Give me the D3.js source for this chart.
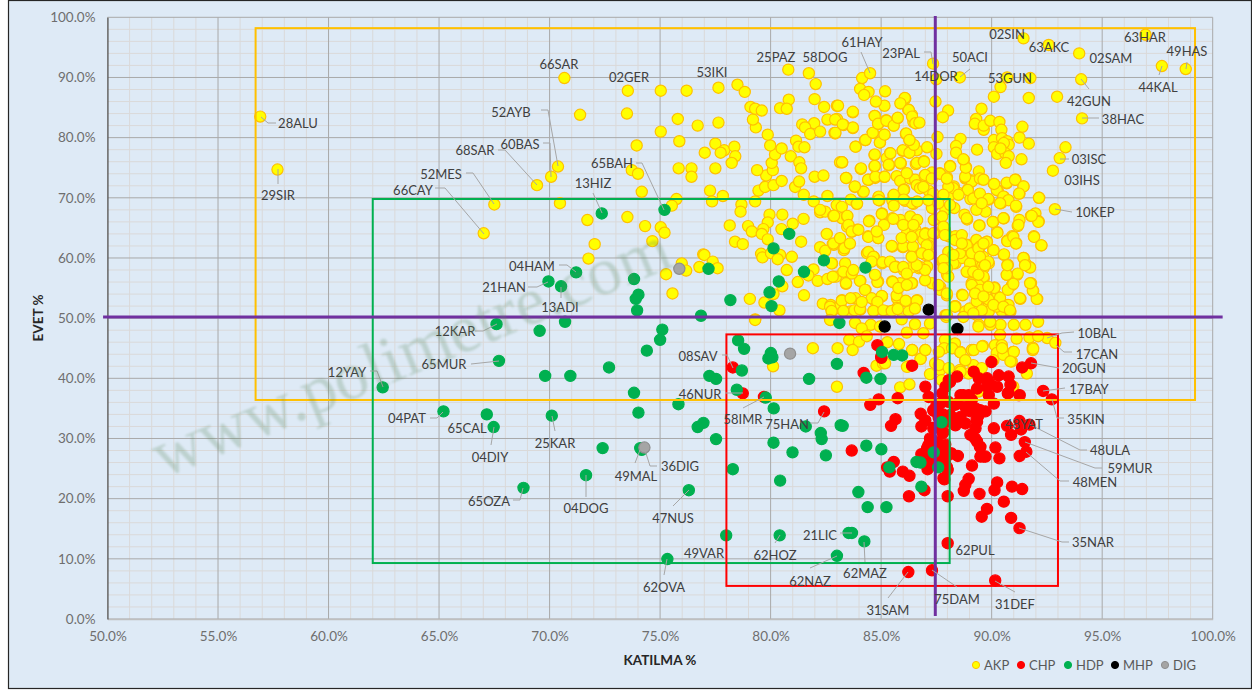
<!DOCTYPE html>
<html><head><meta charset="utf-8">
<style>html,body{margin:0;padding:0;background:#fff}svg{display:block}text{font-family:Lato,"Open Sans",sans-serif}</style>
<script src="https://cdn.jsdelivr.net/npm/d3@7/dist/d3.min.js"></script>
</head><body><div id="c"></div>
<script>
const xTickValues=[50,55,60,65,70,75,80,85,90,95,100];
const yTickValues=[0,10,20,30,40,50,60,70,80,90,100];
const legendNames=["AKP","CHP","HDP","MHP","DIG"];
const akp=[[56.91,83.5],[57.69,74.7],
[70.67,89.9],[73.54,87.8],[75.03,87.8],[76.2,87.8],[77.64,88.3],[78.5,88.8],[78.83,87.6],[71.38,83.8],[73.5,84],[75.8,83.1],[76.7,82],[77.64,82.5],[75.03,81],[73.94,78.7],[75.87,79.4],[77.5,79],[77.9,77.9],[78.36,78.5],[77.02,77.5],[77.74,77.5],[78.4,76.9],[78.24,75.8],[77.5,74.9],[75.84,74.9],[76.42,74.9],[76.42,73.5],[70.38,75.2],[70.07,73.5],[69.43,72.1],[67.5,68.9],[67.02,64.1],[70.47,69.1],[71.71,66.3],[72.04,62.3],[71.76,59.9],[73.52,66.8],[73.72,74.6],[74,74],[74.17,71],[75.74,69.8],[75.53,68.7],[74.32,65.3],[75.03,65.1],[75.2,64.2],[74.65,62.8],[76.95,60.6],[77,60.5],[77.38,59.4],[77.6,58.3],[76.78,58.5],[75.98,59.1],[76.18,57.9],[75.27,57.3],[75.56,54.1],[77.26,71.2],[77.84,70.3],[77.35,69.4],[78.68,68.9],[78.64,67.7],[78.15,65.4],[78.98,65.3],[79.15,64.4],[78.39,62.7],[78.74,62.3],[79.3,69.4],[79.45,71.2],[79.75,71.8],[80.13,72.1],[80.5,72.8],[81.11,71.8],[81.29,72.7],[81.5,70.5],[81.95,69.4],[82.57,70.3],[79.8,73.7],[79.39,74.6],[80.1,74.6],[80.05,75.8],[80.2,77.2],[79.98,78.7],[80.5,78.2],[79.87,80.5],[79.33,81.7],[79.2,83],[79.09,85.1],[79.3,84.8],[79.6,84.5],[80.43,84.9],[80.82,86.3],[80.73,84.8],[80.8,91.3],[81.73,90.7],[82.04,88.9],[81.99,86.4],[82.42,85.1],[83,85.3],[82.57,83],[83,83.1],[81.97,82.4],[81.43,82.2],[81.56,81.7],[81.79,80.6],[82.24,81],[82.89,80.8],[81.15,79.5],[81.26,78.5],[81.53,78.4],[80.91,76.9],[81.3,75.9],[81.38,74.9],[81.99,73.5],[82.39,73.7],[83.14,75.9],[79.95,67.2],[80.53,67.2],[79.87,65.9],[79.67,64.8],[79.6,64],[80.49,64.8],[81,65.7],[81.49,66.5],[81.38,62.7],[82.24,67.6],[82.47,67.7],[82.84,67],[82.54,64],[82.81,62.3],[82.24,61.8],[82.47,61.2],[79.87,63.1],[79.57,60.7],[79.63,60.1],[80.02,60.8],[80.43,60.5],[80.32,59.8],[80.96,60.2],[82.78,59.1],[81.94,58.1],[81.71,57.1],[82.13,56.2],[81.23,56],[80.73,58],[82.57,56.5],[82.84,56.9],[80.53,55.3],[80.13,54],[79.72,52.6],[81.51,53.8],[79.06,53.2],[80.4,51.3],[79.3,49.8],[82.36,52.4],[82.72,52.2],[82.77,51.1],[82.72,49.7],
[83.72,84.2],[83.72,81.6],[83.3,82.1],[82.92,83],[82.92,80.7],[83.24,75.9],[83.85,78.5],[84.28,79.6],[84.62,80.8],[84.95,79.2],[85.15,80.5],[84.88,82.3],[84.71,83.6],[85.15,85.3],[84.76,86],[85.18,87.7],[84.14,89.9],[84.5,90.7],[84.05,88.1],[84.43,87.6],[84.23,87.1],[85.23,82.9],[85.74,83.2],[85.56,82],[85.89,85.7],[86.09,86.5],[86.22,84.7],[86.39,83.8],[86.46,82.6],[86.57,82.4],[86.12,80.6],[86.28,79.6],[86.46,78.5],[85.97,77.8],[86.27,77.5],[86.61,77.9],[84.7,77.1],[85.4,77.4],[85.26,76.6],[85.35,75.4],[85.89,75.7],[86.57,75.6],[84.7,75.2],[84.08,74.8],[83.42,73.3],[84.43,73],[84.73,73.3],[85.14,73.5],[85.71,73.6],[85.86,72.8],[86.31,73.2],[86.54,73],[86.16,74.1],[86.04,71.4],[86.61,72.1],[83.81,71.8],[84.18,71],[83.63,69.7],[83.9,69],[84.88,70.1],[84.92,69.6],[85.56,70.3],[85.51,69.5],[86.09,69.5],[86.46,69],[86.76,71.6],[82.99,68.8],[83.22,68.5],[82.24,68],
[91.44,96.5],[92.58,95.4],[93.96,94],[96.96,97.1],[97.7,91.9],[98.78,91.4],[94.05,89.7],[92.96,86.8],[91.68,86.6],[94.09,83.2],[91.75,89.9],[90.7,90],[90.4,88.4],[90.1,86.8],[89.54,84.8],[88.56,90],[87.35,92.3],[87.49,89.7],[87.46,86],[88.03,84.5],[87.79,83.4],[86.07,86.6],[85.87,85.7],[86.25,84.6],[86.4,83.5],[86.55,82.4],[86.73,82.5],[87.55,80.1],[88.59,79.8],[89.34,78],[88.39,78.6],[88.39,77.5],[87.5,77.3],[87.08,78.4],[88.74,76.3],[88.84,75.1],[88.12,75.3],[87.65,74.1],[87.98,73.4],[87.3,74.2],[86.97,73.6],[86.61,75.8],[86.93,76.1],[88.81,73.2],[89.11,72.9],[89.42,74.4],[89.57,73.1],[90.1,72.3],[90.28,71.2],[90.68,72.4],[91.08,73],[91.44,71.9],[91.26,70.7],[92.15,70],[92.86,68.1],[91.11,68.5],[91.98,67.4],[91.78,67],[92.13,66.1],[91.26,66.3],[91.18,65.3],[91.91,63.6],[92.25,62.1],[90.92,63.6],[91.11,62.5],[90.7,62.9],[90.55,66.6],[90.25,64.3],[90.07,66],[89.45,65.4],[88.89,66.4],[88.77,67.2],[90.43,69.1],[90.55,70.2],[89.87,69.7],[89.72,67.7],[89.31,68],[89.42,70.5],[89.04,69.8],[88.92,71.3],[88.29,71.9],[88.51,70.8],[88.13,70.5],[88.31,68.3],[87.91,68],[87.3,68.3],[87.15,71.2],[86.02,71.3],[86.4,69.1],[85.57,70.5],[86.02,69.7],[86.63,69.4],[85.04,67.4],[84.47,66.2],[85.5,66.6],[85.87,66.3],[86.32,66.9],[86.63,66.3],[87.38,66.3],[87.76,66.9],[86.4,64.7],[86.17,64.1],[86.55,64.7],[87,64.1],[87.46,64.1],[87.88,64.7],[88.06,63.6],[84.41,63.6],[84.86,63.3],[85.5,61.9],[85.98,61.8],[86.43,61.9],[87.15,62.7],[87,60.7],[86.4,60.4],[87.23,60.7],[88.36,63.6],[88.59,62.9],[88.89,62.2],[89.31,63],[89.79,62.7],[89.42,61.6],[90.07,61.3],[89.61,60.2],[89.87,59.1],[90.55,60.5],[91.45,60],[91.53,59.1],[91.71,58.5],[90.73,58.9],[90.7,57.2],[91.15,57.2],[91.78,55.8],[91.88,54.5],[92.06,53.2],[91.3,53.2],[90.92,55.5],[90.13,55.1],[89.64,56.6],[89.04,57.5],[89.27,55.8],[89.11,55.5],[88.66,53.9],[89.34,52.8],[90.25,53.6],[90.7,52.2],[89.87,52.2],[88.36,52],[87.91,50.5],[88.81,51.1],[89.34,50.5],[89.87,51.1],[90.47,51.1],[90.85,51.1],[87.61,55],[87.98,57.2],[87.76,59.4],[88.36,59.1],[88.66,60],[89.11,59.1],[89.57,58.6],[87.3,55.8],[86.4,55.8],[85.87,55.8],[85.5,56.1],[84.86,56.1],[84.06,56.2],[84.29,54.7],[83.41,55.7],[83.38,57.7],[82.96,56.9],[83.23,53],[83.84,53.3],[85.04,53.6],[84.74,52.8],[85.72,53.3],[86.13,52.8],[86.63,53],[85.72,51.7],[85.27,51.1],[84.67,51.2],[84.06,51.4],[83.61,51.1],[83.23,51.4],[82.93,51.6],[86.25,51.1],[84.36,60.8],[84.67,60.2],[85.04,59.1],[85.65,58.6],[86.02,58],[86.7,58.3],[86.32,58.3],[87.08,58.6],[83.31,61.3],[82.86,62.2],[83.68,64.4],[83.91,64.7],[83.46,65.2],[83.23,66.6],[82.86,67],[83.46,66.9],[83.91,69],[84.21,71],[84.89,70.2],[84.89,69.6],[85.57,68.7],[83.41,73.3],[83.81,71.9],[84.41,73],[84.74,73.5],[85.16,73.5],[84.09,74.9],[84.71,75.3],[85.34,75.5],[85.87,75.8],[83.23,75.9],[84.71,77.2],[85.42,77.4],[85.98,77.9],[86.28,77.5],[86.48,78.8],[83.84,78.5],[84.29,79.6],[84.94,79.2],[85.15,80.5],[84.62,80.8],[83.72,81.7],[83.26,82.2],[82.93,80.8],[83.05,85.3],[83.72,84.3],[84.71,83.6],[84.86,82.3],[85.24,82.8],[85.57,82],[85.75,83.3],[86.13,80.7],[86.28,79.6],
[92.1,49.4],[91.53,48.9],[91,48.9],[90.4,48.9],[89.94,48.9],[89.42,48.9],[92.51,46.7],[92.88,45.9],[91.86,45.1],[91.13,46.6],[91.71,46.8],[89.4,48.6],[90.38,47.2],[89.93,49.4],[90.15,45.5],[90.46,45.5],[90.98,44.4],[89.6,45.4],[89.1,44.7],[88.57,44.4],[88.34,45.8],[87.89,46.4],[87.85,45],[87.21,49.1],[86.99,44.7],[86.91,47.5],[87.94,50.2],[88.34,52],[88.69,53.8],[89,51.6],[88.72,50.2],[89.32,52.8],[89.85,53.1],[90.23,51.9],[90.38,53.4],[90.76,52.2],[91.28,53.3],[92.04,53.2],[91.86,54.6],[91.74,55.8],[90.73,54.7],[90.98,55.7],[91.18,57.4],[90.68,57.2],[91.74,58.4],[91.44,60],[91.51,58.8],[90.71,58.8],[90.56,60.6],[90.08,61.3],[89.85,59.4],[89.63,58.3],[89.02,59.1],[88.87,57.7],[89.63,56.9],[89.1,55.8],[89.4,55.5],[89.78,54.7],[90.12,55],[88.57,60.8],[88.87,62.1],[88.34,63],[88.65,63.8],[89.47,61.9],[89.78,62.7],[90.26,64.2],[90.71,62.8],[90.98,63.5],[91.1,62.4],[91.92,63.5],[92.25,62.1],[89.44,65.4],[90.05,66],[91.21,65.5],[92.11,66],[88.87,66.6],[90.53,66.6],[91.81,67],[87.82,65.2],[87.89,63.8],[88.04,61],[88.27,59.1],[87.82,59.4],[88.04,56.9],[86.99,56.3],[87.67,55.2],[87.97,53.8],[86.99,60.5],[87.14,62.1],[86.76,63.8],[86.91,63],[86.99,64],[87.36,64.1],[86.76,58.5],[86.99,58],
[82.87,67],[83.47,67],[84.45,66.1],[85.03,67.3],[85.13,65.5],[85.55,66.5],[86,65.5],[86.46,65.5],[82.84,62.4],[83.14,63.3],[83.52,65.5],[83.67,64.4],[83.97,64.7],[84.42,63.5],[84.87,63.3],[84.8,64.4],[85.48,62],[86,61.9],[86.43,61.9],[85.93,63.3],[86.38,63.5],[83.34,61.6],[83.59,62.4],[84.42,61],[84.65,60.2],[84.57,59.4],[85.06,59.3],[85.4,59.4],[85.63,58.5],[86,58.5],[86.16,57.4],[86.61,58.8],[86.38,60.2],[86.38,55.8],[85.52,56],[84.83,56],[84.72,57.2],[84.04,56.2],[83.37,59.1],[83.29,57.7],[83.67,57.4],[83.74,58],[83.41,55.8],[82.76,59.1],[82.81,56.9],[84.27,54.7],[84.57,53.3],[85.03,53.7],[84.83,52.7],[85.7,53.8],[86.11,52.9],[86.61,52.9],[85.78,55],[86.16,55.5],[83.22,52.9],[83.62,53.3],[82.69,51.9],[82.76,51.2],[83.29,51.2],[83.79,51.3],[84.04,51.5],[84.65,51.2],[85.1,51.3],[85.48,51.2],[85.75,51.5],[86.53,51.6],[84.12,52.7],
[82.69,49.7],[83.82,49.2],[84.53,48.9],[84.12,48.3],[85.93,49.8],[86.53,49],[86.16,47.6],[84.95,48.6],[83.56,46.4],[84,46.1],[84.35,47],[83.71,44.7],[85.28,46],[85.81,45.7],[86.41,44.7],[83.03,45],[81.91,45],[80.11,42],[83,38.6],[84.79,42.1],[85.08,42.5],[79.3,49.7],
[86.79,43.3],[86.23,42],[85.86,38.5],[86.28,39],[87.21,40.7],[87.67,41.4],[87.74,39.7],[87.44,42.5],[88.57,41.4],[88.95,40.8],[89.17,42.2],[89.55,41.7],[88.8,43],[88.57,44.4],[90.23,44.2],[90.91,42.8],[90.98,44.4],[91.59,40.8],[90.98,38.6],[89.32,38],[90.53,43.9],[90.08,43],[91.86,44.7],[85.18,42.5],[86.17,41.9],[86.78,43.2],[86.4,44.7],[87,44.7],[87.61,44.4],[88.21,45],[88.59,44.3],[88.81,43],[89.19,44.7],[89.57,45.3],[90.47,45],[91,44.4],[90.85,42.8],[88.59,41.1],[87.61,42.2],[88.06,41.7],[89.42,37.8],[90.92,38.3],[91.88,44.9],[92.1,47],
[93.34,78.4],[93.08,76.6],[92.77,74.5],[89.3,83.1],[89.24,82.3],[89.64,81.3],[89.64,82],[89.94,82.8],[90.35,82.6],[90.44,81.3],[91.39,81.8],[91.26,80],[91.68,79],[90.1,79.6],[90.47,79.9],[90.7,79.4],[90.77,78.8],[90.55,79.1],[90.1,78.4],[90.25,77.3],[90.62,77.4],[90.77,76.9],[90.64,75.8],[91.35,76.4],[90.4,78.2],
[88.87,73.2],[89.1,72.7],[89.47,73.2],[89.63,73],[88.92,71.3],[88.27,71.6],[88.5,70.5],[88.04,71.8],[89.17,69.9],[89.47,70.7],[89.85,69.8],[89.55,69.1],[90.23,71.3],[90.11,72.3],[90.68,72.5],[91.06,73],[91.44,71.9],[91.24,70.7],[90.53,70.2],[90.76,69.6],[90.38,69.1],[91.1,68.7],[92.14,70],[88.8,73.5],[88.12,75.2],[88.83,75],[88.72,76.4],[86.94,76],
[86.99,73.8],[87.29,73.2],[87.66,74],[87.97,73.2],[86.91,71.8],[87.36,70.7],[87.82,70.5],[87.14,69.6],[87.59,69.1],[88.12,68.8],
[87.06,62.1],[86.84,60.8],[87.14,60.5],[87.82,59.7],[87.97,58.3],[87.82,58.3],[88.27,60.5],[88.65,62.4],[89.1,60.8],[89.4,61.6],[89.63,62.4],[89.47,60.2],[89.7,58.8],[89.17,57.7],[89.4,57.2],[89.1,55.5],[89.47,54.7],[89.85,55.2],[89.25,54.1],[89.63,53.6],[90.08,52.2],[89.55,51.3],[89.17,50.8],[90.53,51.9],[90.83,51.3],[87.67,54.7],[87.97,54.1],[87.59,55.5],[88.34,51.9],[87.97,50.5]];
const chp=[[78.29,41.8],[78.74,37.5],[79.7,36.9],[82.42,34.5],[84.83,45.5],[85,43.6],[84.21,40.9],[83.67,28],[91.78,42.5],[91.38,41.8],[89.99,42.7],[86.4,42.1],[85.01,43.4],[87,38.6],[87.15,36.9],[85.75,36.7],[84.89,36.5],[84.51,35.6],[86.79,34.1],[86.82,32],[85.65,33.2],[85.45,32.1],[87.38,34.6],[87.38,31.8],[87.79,30.9],[85.57,26.1],[85.27,25.2],[85.39,24.5],[85.98,24.5],[86.28,23.8],[86.26,20.4],[86.96,21.4],[88.01,20.4],[87.86,23.2],[88.01,24.8],[87.23,29.5],[87.08,28.4],[86.82,27.4],[87.08,26],[87.76,27],[88.14,27.5],[88.47,27.1],[89.11,25.5],[88.96,23.3],[88.81,22.3],[88.74,21.3],[89.45,20.8],[90.25,22.7],[90.13,21.4],[90.92,22],[91.38,21.6],[90.55,19.5],[89.79,18.3],[89.55,17],[90.88,16.8],[91.26,15.1],[88.01,12.6],[86.23,7.8],[87.3,8.1],[90.16,6.4],[92.33,37.9],[92.72,36.5],[91.27,37.2],[90.73,37.5],[90.1,31.7],[90.7,32.1],[91.26,32.9],[91.71,32.3],[91.33,31.5],[90.88,30.6],[91.5,29.4],[91.57,27.8],[91.27,27.1],[90.17,28.5],[90.35,26.7],[89.72,27],[89.49,27],[89.49,28.6],[89.34,29.5],[89.04,30.6],[89.27,31.7],[89.34,32.8],[88.81,32.5],[88.36,32.2],[88.06,32.8],[88.13,33.9],[88.59,33.6],[89.04,34.5],[89.42,33.9],[89.72,34.5],[90.1,35.8],[89.87,37.2],[89.27,35],[88.81,35.3],[88.59,37.2],[88.96,37.2],[88.44,35.8],[88.04,36.1],[87.76,37.5],[87.91,38.6],[88.06,39.7],[88.44,40.3],[89.19,41.1],[89.42,40],[89.79,40],[89.34,38.3],[90.25,38.6],[90.32,40.5],[90.77,40.3],[90.85,38.9],[89.79,38.6],[88.12,39.4],[89.93,39.2],[90.76,37.6],[88.72,37.2],[89.1,36.4],[88.34,35.6],[88.87,34.7],[89.48,34.7],[87.36,34.7],[87.67,35.8],[88.49,32.8],[89.32,33.1],[87.36,31.7],[87.82,31.1],[89.25,30],[87.21,30],[87.14,28.9],[89.47,28.6],[89.63,27],[88.19,27.5],[87.82,23.4],[87.97,25.3],
[87,33],[87.6,33.5],[87.3,27.5],[87.5,29.5],[87.7,28.5],[87.9,29],[87.4,26],[87.1,24.9],[87.9,26.5],[87.8,34],[87.5,35.5],[87.9,33]];
const hdp=[[72.36,67.4],[75.2,68],[71.2,57.6],[69.95,56.1],[70.52,55.3],[73.82,56.5],[74.02,53.9],[73.9,53.2],[73.96,51.3],[70.7,49.4],[67.6,49],[69.55,47.9],[76.85,50.4],[78.18,53],[75.1,48.1],[75,46.4],[78.53,46.3],[77.19,58.2],[80.13,61.6],[80.84,64],[82.41,59.6],[81.51,57.7],[80.37,56.1],[79.95,54.3],[80.04,52],[83.11,49.2],[84.29,58.4],[62.45,38.5],[67.71,42.9],[69.8,40.4],[70.94,40.4],[72.69,41.8],[74.4,44.6],[73.82,37.6],[74.02,34.3],[65.2,34.5],[67.16,34],[67.47,31.9],[70.1,33.8],[72.4,28.4],[74.17,28.1],[74.1,28.4],[71.65,23.9],[68.82,21.8],[76.3,21.4],[77.99,13.9],[80.41,13.9],[75.33,9.97],[83,10.5],[77.23,40.4],[77.53,39.9],[78.7,41.3],[78.8,44.9],[78.47,38.1],[75.83,35.7],[76.96,32.6],[76.7,31.9],[77.53,29.9],[78.29,24.9],[80.13,29.3],[80.14,35],[80.99,27.7],[81.59,32],[82.27,30.9],[82.31,29.9],[82.5,27.2],[80.43,23],[81.74,39.9],[80.01,44.2],[79.9,43.3],[80.08,43.5],[83,42.4],[83.17,32.2],[79.78,36.8],[83.26,32.1],[84.33,40.1],[84.97,39.9],[85.04,44.4],[85.57,43.9],[85.95,43.8],[87.73,32.7],[84.33,28.8],[85.01,28.2],[85.37,25.2],[86.6,26.1],[86.78,26],[87.38,27.7],[87.58,25.2],[86.82,22],[83.97,21.1],[84.39,18.6],[85.24,18.6],[83.68,14.3],[83.53,14.3],[84.24,12.9]];
const mhp=[[85.16,48.6],[87.15,51.4],[88.45,48.2]];
const dig=[[75.87,58.2],[80.88,44.1],[74.29,28.5]];
const boxes=[[56.7,99.2,36.4,98.2,"#FFC000"],[62,88.1,9.3,69.8,"#00B050"],[78,93,5.5,47.3,"#FF0000"]];
const labels=[
["28ALU",298,123,[[276,123],[268,123],[261,117]]],["29SIR",278,195,[[278,184],[278,169]]],["66CAY",413,190,[[435,188],[445,188],[484,234]]],["52MES",441,174,[[466,173],[473,173],[494,204]]],["68SAR",475,150,[[498,150],[505,150],[537,185]]],["60BAS",520,144,[[543,143],[550,143],[551,177]]],["52AYB",511,112,[[541,110],[548,110],[558,166]]],["66SAR",559,64],["02GER",629,77],["53IKI",712,72],["25PAZ",776,57],["58DOG",825,57],["61HAY",862,42,[[861,52],[870,73]]],["23PAL",901,53,[[924,52],[931,52],[933,64]]],["14DOR",936,76],["50ACI",970,57,[[970,69],[960,77]]],["02SIN",1007,34],["63AKC",1049,47],["02SAM",1111,58],["63HAR",1145,37],["49HAS",1187,51,[[1187,62],[1186,69]]],["44KAL",1158,87,[[1159,75],[1162,66]]],["53GUN",1010,78],["42GUN",1089,101,[[1089,89],[1081,79]]],["38HAC",1123,119,[[1099,118],[1082,118]]],["03ISC",1089,159,[[1069,159],[1060,159]]],["03IHS",1082,180],["10KEP",1095,212,[[1072,212],[1055,209]]],["10BAL",1097,333,[[1074,332],[1062,333],[1047,338]]],["17CAN",1097,354,[[1072,352],[1064,352],[1056,345]]],["20GUN",1084,368,[[1059,368],[1031,363]]],["17BAY",1089,389,[[1065,388],[1043,391]]],["35KIN",1086,419,[[1064,418],[1057,418],[1052,399]]],["48YAT",1024,424],["48ULA",1110,450,[[1087,450],[1080,450],[1029,424]]],["59MUR",1130,468,[[1102,468],[1095,468],[1025,442]]],["48MEN",1095,482,[[1069,481],[1060,481],[1026,452]]],["35NAR",1093,542,[[1069,542],[1062,542],[1019,528]]],["62PUL",975,550],["75DAM",957,599,[[957,587],[932,570]]],["31DEF",1015,604,[[1015,592],[995,581]]],["31SAM",888,610,[[888,598],[908,572]]],["62MAZ",865,573,[[865,562],[864,542]]],["21LIC",820,535,[[840,533],[852,533]]],["62NAZ",810,581,[[810,568],[837,556]]],["62HOZ",775,555,[[775,543],[780,535]]],["49VAR",704,553],["62OVA",664,587,[[664,575],[667,559]]],["47NUS",673,518,[[673,506],[689,490]]],["49MAL",636,476,[[635,463],[640,450]]],["36DIG",680,466,[[657,466],[650,466],[644,447]]],["04DOG",586,508,[[586,497],[586,475]]],["65OZA",489,501,[[513,500],[520,500],[523,488]]],["25KAR",555,443,[[555,431],[552,416]]],["04DIY",490,457,[[491,445],[494,427]]],["65CAL",467,428],["04PAT",407,418,[[430,418],[437,418],[443,412]]],["65MUR",444,364,[[471,364],[499,361]]],["12YAY",347,372,[[370,371],[377,371],[383,387]]],["12KAR",455,331,[[475,331],[483,331],[497,324]]],["13ADI",560,307,[[561,298],[561,287]]],["21HAN",504,287,[[528,287],[537,287],[548,282]]],["04HAM",532,266,[[559,265],[567,265],[576,272]]],["13HIZ",593,183,[[593,193],[602,213]]],["65BAH",612,163,[[636,163],[642,163],[664,210]]],["08SAV",698,356,[[722,355],[727,355],[733,368]]],["46NUR",700,394,[[725,393],[743,393]]],["58IMR",743,419,[[743,408],[764,397]]],["75HAN",787,424,[[810,423],[818,423],[824,412]]]];

const W=1252,H=690;
const svg=d3.select("#c").append("svg").attr("width",W).attr("height",H);
svg.append("defs").append("filter").attr("id","soft").append("feGaussianBlur").attr("stdDeviation",0.9);
svg.append("rect").attr("x",8.5).attr("y",0.5).attr("width",1243).attr("height",688).attr("fill","#DEEAF6").attr("stroke","#262626").attr("stroke-width",1.2);
const x=d3.scaleLinear().domain([50,100]).range([107.5,1212.7]);
const y=d3.scaleLinear().domain([0,100]).range([619,17.3]);
const minorX=d3.range(50,100.5,1).filter(d=>d%5);
const minorY=d3.range(0,100.5,2).filter(d=>d%10);
const grid=svg.append("g");
grid.selectAll(".mx").data(minorX).join("line").attr("x1",d=>x(d)).attr("x2",d=>x(d)).attr("y1",y(0)).attr("y2",y(100)).attr("stroke","#DAD9D9").attr("stroke-width",1);
grid.selectAll(".my").data(minorY).join("line").attr("y1",d=>y(d)).attr("y2",d=>y(d)).attr("x1",x(50)).attr("x2",x(100)).attr("stroke","#DAD9D9").attr("stroke-width",1);
grid.selectAll(".Mx").data(xTickValues).join("line").attr("x1",d=>x(d)).attr("x2",d=>x(d)).attr("y1",y(0)).attr("y2",y(100)).attr("stroke","#A9A9A9").attr("stroke-width",1);
grid.selectAll(".My").data(yTickValues).join("line").attr("y1",d=>y(d)).attr("y2",d=>y(d)).attr("x1",x(50)).attr("x2",x(100)).attr("stroke","#A9A9A9").attr("stroke-width",1);
const fmt=d=>d.toFixed(1)+"%";
const ax=svg.append("g").attr("transform",`translate(0,${y(0)})`).call(d3.axisBottom(x).tickValues(xTickValues).tickFormat(fmt).tickSize(0).tickPadding(12));
ax.select(".domain").attr("stroke","#BFBFBF").attr("stroke-width",1.5);
const ay=svg.append("g").attr("transform",`translate(${x(50)},0)`).call(d3.axisLeft(y).tickValues(yTickValues).tickFormat(fmt).tickSize(0).tickPadding(12));
ay.select(".domain").attr("stroke","#595959").attr("stroke-width",1.2);
svg.selectAll(".tick text").attr("fill","#6E6E6E").style("font-size","13.5px").style("font-family","Lato,sans-serif");

const series=[[akp,"#FFFF00","#FFC000",5.6],[chp,"#FF0000","#FF0000",5.6],[hdp,"#00B050","#00B050",5.6],[mhp,"#000000","#000000",5.6],[dig,"#A5A5A5","#8F8F8F",5.6]];
series.forEach(([data,fill,stroke,r])=>{
  svg.append("g").selectAll("circle").data(data).join("circle")
    .attr("cx",d=>x(d[0])).attr("cy",d=>y(d[1])).attr("r",r).attr("fill",fill).attr("stroke",stroke).attr("stroke-width",1.2);
});
svg.append("g").selectAll("rect").data(boxes).join("rect")
  .attr("x",d=>x(d[0])).attr("y",d=>y(d[3])).attr("width",d=>x(d[1])-x(d[0])).attr("height",d=>y(d[2])-y(d[3]))
  .attr("fill","none").attr("stroke",d=>d[4]).attr("stroke-width",2);
const pur="#7030A0";
svg.append("line").attr("x1",x(49.8)).attr("x2",x(100.45)).attr("y1",y(50.2)).attr("y2",y(50.2)).attr("stroke",pur).attr("stroke-width",3);
svg.append("line").attr("x1",x(87.45)).attr("x2",x(87.45)).attr("y1",y(0.5)).attr("y2",y(100.2)).attr("stroke",pur).attr("stroke-width",3);
const line=d3.line();
const lab=svg.append("g");
lab.selectAll("path").data(labels.filter(d=>d[3])).join("path").attr("d",d=>line(d[3])).attr("fill","none").attr("stroke","#A6A6A6").attr("stroke-width",1);
lab.selectAll("text").data(labels).join("text").attr("x",d=>d[1]).attr("y",d=>d[2]).attr("text-anchor","middle").attr("dominant-baseline","central").attr("fill","#404040").style("font-size","13px").text(d=>d[0]);
svg.append("text").attr("transform","translate(38,318) rotate(-90)").attr("text-anchor","middle").attr("dominant-baseline","central").attr("fill","#262626").style("font-size","13.5px").style("font-weight","700").text("EVET %");
svg.append("text").attr("x",660).attr("y",660).attr("text-anchor","middle").attr("dominant-baseline","central").attr("fill","#262626").style("font-size","13.5px").style("font-weight","700").text("KATILMA %");
const lx=[976,1021,1068,1115,1165];
const leg=svg.append("g").selectAll("g").data(legendNames).join("g").attr("transform",(d,i)=>`translate(${lx[i]},665)`);
leg.append("circle").attr("r",3.6).attr("fill",(d,i)=>series[i][1]).attr("stroke",(d,i)=>series[i][2]).attr("stroke-width",1);
leg.append("text").attr("x",8).attr("dominant-baseline","central").attr("fill","#595959").style("font-size","13px").text(d=>d);
svg.append("text").attr("transform","translate(163,478) rotate(-22.5)").attr("fill","#5F8A5F").attr("opacity",0.26).attr("filter","url(#soft)").style("font-family","'Liberation Serif',serif").style("font-size","68px").text("www.polimetre.com");
</script></body></html>
